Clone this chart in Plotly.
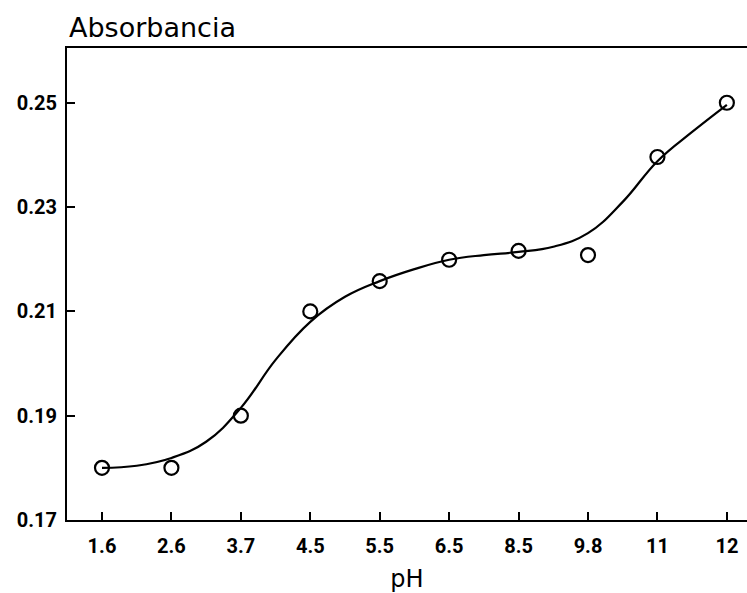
import plotly.graph_objects as go

ph_labels = ["1.6", "2.6", "3.7", "4.5", "5.5", "6.5", "8.5", "9.8", "11", "12"]
absorbance = [0.180, 0.180, 0.190, 0.210, 0.2158, 0.2199, 0.2216, 0.2208, 0.2396, 0.2500]

# smooth fitted curve at half-category steps
curve_pos = [0, 0.5, 1, 1.5, 2, 2.5, 3, 3.5, 4, 4.5, 5, 5.5, 6, 6.5, 7, 7.5, 8, 8.5, 9]
curve_val = [0.1800, 0.1804, 0.1819, 0.1850, 0.1915, 0.2007, 0.2080, 0.2128, 0.2158,
             0.2181, 0.2199, 0.2208, 0.2214, 0.2224, 0.2250, 0.2310, 0.2388, 0.2444, 0.2496]

idx = list(range(len(ph_labels)))

fig = go.Figure()
fig.add_trace(go.Scatter(x=curve_pos, y=curve_val, mode="lines",
                         line=dict(color="black", width=2.2, shape="spline", smoothing=1.2),
                         hoverinfo="skip", showlegend=False))
fig.add_trace(go.Scatter(x=idx, y=absorbance, mode="markers",
                         marker=dict(symbol="circle-open", size=14, color="black",
                                     line=dict(width=2.2, color="black")),
                         showlegend=False))

font_main = "Roboto, sans-serif"
tick_font = dict(size=20, family="Roboto", color="black", weight="bold")
fig.update_layout(
    width=747, height=593,
    margin=dict(l=67, r=0, t=48, b=73),
    plot_bgcolor="white", paper_bgcolor="white",
    font=dict(family=font_main, color="black"),
    xaxis=dict(range=[-0.504, 9.29], tickmode="array", tickvals=idx, ticktext=ph_labels,
               ticks="inside", ticklen=8, tickwidth=2, tickcolor="black",
               showline=True, linecolor="black", linewidth=2, mirror=True,
               showgrid=False, zeroline=False, ticklabelstandoff=7,
               tickfont=tick_font,
               title=dict(text="pH", font=dict(size=24, family="DejaVu Sans"),
                          standoff=14)),
    yaxis=dict(range=[0.17, 0.2605], tickmode="array",
               tickvals=[0.17, 0.19, 0.21, 0.23, 0.25],
               ticktext=["0.17", "0.19", "0.21", "0.23", "0.25"],
               ticks="inside", ticklen=8, tickwidth=2, tickcolor="black",
               showline=True, linecolor="black", linewidth=2,
               showgrid=False, zeroline=False, ticklabelstandoff=4,
               tickfont=tick_font),
    annotations=[dict(text="Absorbancia", x=0, y=1, xref="paper", yref="paper",
                      xanchor="left", yanchor="bottom", showarrow=False, yshift=3,
                      font=dict(size=27, family="DejaVu Sans", color="black"))],
)

fig.write_html("out.html")
